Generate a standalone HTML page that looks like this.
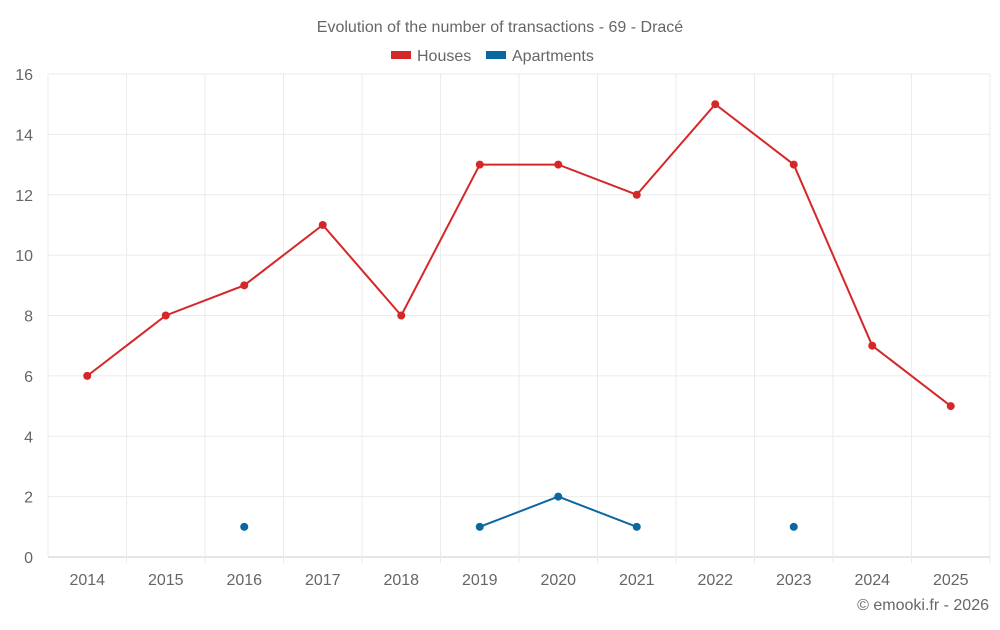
<!DOCTYPE html>
<html><head><meta charset="utf-8"><style>
body{margin:0;background:#fff;font-family:"Liberation Sans",sans-serif}
svg text{font-family:"Liberation Sans",sans-serif;fill:#666}
</style></head><body>
<svg id="c" width="1000" height="625">
<text x="500" y="32" text-anchor="middle" font-size="16">Evolution of the number of transactions - 69 - Dracé</text>
<g>
<rect x="391" y="51" width="20" height="8" fill="#d62728"/>
<text x="417" y="61" font-size="16">Houses</text>
<rect x="486" y="51" width="20" height="8" fill="#0b67a0"/>
<text x="512" y="61" font-size="16">Apartments</text>
</g>
<g id="grid"></g><g id="marks"></g>
<text x="989" y="610" text-anchor="end" font-size="16">© emooki.fr - 2026</text>
</svg>
<script>
const years=["2014","2015","2016","2017","2018","2019","2020","2021","2022","2023","2024","2025"];
const houses=[6,8,9,11,8,13,13,12,15,13,7,5];
const apartments=[null,null,1,null,null,1,2,1,null,1,null,null];
const yTicks=[0,2,4,6,8,10,12,14,16];
const L=48,R=990,T=74,B=557,yMax=16;
const bw=(R-L)/years.length;
const x=i=>L+bw*(i+0.5);
const y=v=>B-(B-T)*v/yMax;
const NS="http://www.w3.org/2000/svg";
const grid=document.getElementById('grid'),marks=document.getElementById('marks');
function mk(t,a,p){const e=document.createElementNS(NS,t);for(const k in a)e.setAttribute(k,a[k]);p.appendChild(e);return e;}
yTicks.forEach(v=>{
 const l=mk('line',{x1:L,x2:R,y1:y(v),y2:y(v),stroke:v===0?'#ccc':'#ebebeb'},grid);
 
 
 const t=mk('text',{x:33,y:y(v)+6,'text-anchor':'end','font-size':16},grid);t.textContent=v;
 
 
});
for(let i=0;i<=years.length;i++){
 const l=mk('line',{x1:L+bw*i,x2:L+bw*i,y1:T,y2:B+(i>0?6:0),stroke:'#ebebeb'},grid);
 
 
}
years.forEach((yr,i)=>{
 const t=mk('text',{x:x(i),y:585,'text-anchor':'middle','font-size':16},grid);t.textContent=yr;
 
 
});
function series(data,color,name){
 let seg=[];const segs=[];
 data.forEach((v,i)=>{if(v==null){if(seg.length)segs.push(seg);seg=[];}else seg.push([x(i),y(v)]);});
 if(seg.length)segs.push(seg);
 segs.forEach(s=>{if(s.length>1){
  const p=mk('polyline',{points:s.map(q=>q.join(',')).join(' '),fill:'none',stroke:color,'stroke-width':2},marks);
  
  
 }});
 data.forEach((v,i)=>{if(v==null)return;
  const c=mk('circle',{cx:x(i),cy:y(v),r:4,fill:color},marks);
  
  
 });
}
series(houses,'#d62728','houses');
series(apartments,'#0b67a0','apartments');
</script>
</body></html>
